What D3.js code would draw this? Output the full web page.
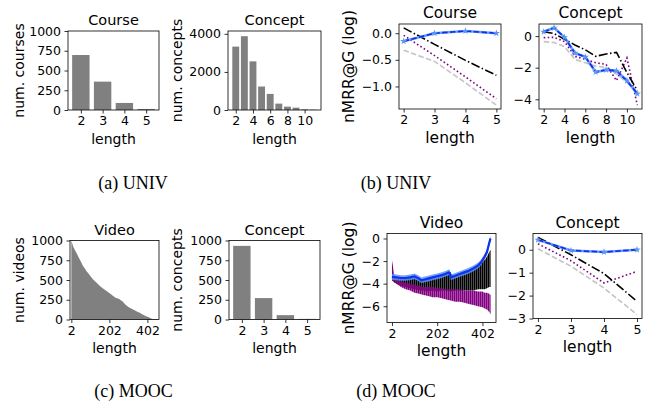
<!DOCTYPE html>
<html><head><meta charset="utf-8">
<script src="https://cdn.jsdelivr.net/npm/d3@7"></script>
<style>body{margin:0;background:#fff}</style>
</head><body><svg id="c" width="652" height="405" style="display:block;background:#fff"></svg>
<script>
// ---------- DATA ----------
// (a) UNIV counts
const univCourseLen = [2,3,4,5];
const univCourseCount = [696,359,89,13];
const univConceptLen = [2,3,4,5,6,7,8,9,10,11];
const univConceptCount = [3330,3877,2555,1233,846,335,176,123,35,18];
// (c) MOOC counts
const moocVideoLen = [2,12,22,32,42,52,62,72,82,92,102,112,122,132,142,152,162,172,182,192,202,212,222,232,242,252,262,272,282,292,302,312,322,332,342,352,362,372,382,392,402,412,422,432,442];
const moocVideoCount = [1000,920,875,830,780,733,685,648,612,582,550,520,495,471,448,425,405,387,370,352,336,318,298,278,268,262,245,228,200,178,158,145,132,120,108,96,84,70,58,45,36,24,12,4,1];
const moocConceptLen = [2,3,4,5];
const moocConceptCount = [932,271,55,8];
// (b) UNIV nMRR@G (log)
const univCourseL = [2,3,4,5];
const univCourseOurs = [-0.15,0.0,0.04,0.0];
const univCourseDashDot = [0.10,-0.21,-0.51,-0.79];
const univCourseDotted = [-0.04,-0.42,-0.82,-1.23];
const univCourseDashed = [-0.32,-0.53,-0.93,-1.35];
const univConceptL = [2,3,4,5,6,7,8,9,10,11];
const univConceptOurs = [0.27,0.52,-0.08,-1.07,-1.32,-2.27,-2.14,-2.2,-2.82,-3.65];
const univConceptDashDot = [0.27,0.16,-0.2,-0.56,-0.87,-1.28,-1.13,-1.03,-2.31,-3.44];
const univConceptDotted = [-0.1,-0.08,-0.35,-1.28,-1.48,-1.69,-1.79,-2.82,-1.38,-4.37];
const univConceptDashed = [-0.35,-0.41,-0.66,-1.48,-1.69,-1.9,-2.0,-2.41,-2.93,-3.55];
// (d) MOOC nMRR@G (log)
const moocVideoOursL = [2,22,42,62,82,102,122,132,142,162,182,202,222,242,252,258,262,282,302,322,342,362,382,397,412,422,427,432,436,438];
const moocVideoOurs = [-3.4,-3.45,-3.5,-3.5,-3.45,-3.35,-3.55,-3.7,-3.65,-3.55,-3.45,-3.35,-3.25,-3.1,-3.0,-3.05,-3.45,-3.3,-3.15,-3.0,-2.85,-2.65,-2.4,-2.1,-1.6,-1.2,-0.8,-0.4,-0.1,0.0];
const moocVideoBandHalf = 0.25;
const moocVideoNoiseL = [2,12,22,42,62,82,102,122,142,162,182,202,222,242,262,282,302,322,342,362,382,402,412,422,432,438];
const moocVideoDashDotHi = [-3.4,-3.4,-3.4,-3.5,-3.5,-3.5,-3.4,-3.6,-3.7,-3.6,-3.5,-3.4,-3.3,-3.1,-3.1,-3.4,-3.2,-3.0,-2.8,-2.6,-2.4,-2.1,-1.9,-1.6,-1.2,-1.0];
const moocVideoDashDotLo = [-3.7,-3.9,-4.0,-4.2,-4.3,-4.4,-4.5,-4.6,-4.6,-4.7,-4.6,-4.7,-4.6,-4.6,-4.7,-4.6,-4.6,-4.6,-4.6,-4.6,-4.5,-4.5,-4.5,-4.4,-4.3,-4.3];
const moocVideoDottedHi = [-1.9,-3.2,-3.6,-3.8,-3.9,-4.0,-4.1,-4.2,-4.3,-4.3,-4.3,-4.4,-4.4,-4.5,-4.5,-4.5,-4.5,-4.6,-4.6,-4.6,-4.7,-4.7,-4.8,-4.8,-4.9,-5.0];
const moocVideoDottedLo = [-3.6,-3.8,-4.0,-4.3,-4.5,-4.6,-4.8,-4.9,-5.0,-5.1,-5.2,-5.2,-5.3,-5.4,-5.5,-5.6,-5.6,-5.7,-5.8,-5.9,-6.0,-6.1,-6.2,-6.3,-6.5,-6.7];
const moocConceptL = [2,3,4,5];
const moocConceptOurs = [0.43,-0.03,-0.1,0.0];
const moocConceptDashDot = [0.54,-0.22,-1.04,-2.25];
const moocConceptDotted = [0.26,-0.48,-1.45,-0.94];
const moocConceptDashed = [0.04,-0.72,-1.67,-2.83];

const captions = ["(a) UNIV","(b) UNIV","(c) MOOC","(d) MOOC"];

// ---------- DRAW ----------
const svg = d3.select('#c');
const FONT = '"DejaVu Sans", sans-serif';
const C_BLUE = '#1030f0', C_LBLUE = '#5a97f4', C_PURPLE = '#800080', C_GRAY = '#c4c4c4', C_BAR = '#808080';
let pid = 0;

const defs = svg.append('defs');
function stripes(id, color, w){
  const pt = defs.append('pattern').attr('id',id).attr('width',2).attr('height',4).attr('patternUnits','userSpaceOnUse');
  pt.append('rect').attr('width',w).attr('height',4).attr('fill',color);
}
stripes('hatchK','#000',1.7);
stripes('hatchP',C_PURPLE,1.7);

function padDomain(arrs){
  const all = arrs.flat();
  const lo = d3.min(all), hi = d3.max(all), m = (hi-lo)*0.05;
  return [lo-m, hi+m];
}

function panel(o){
  const id = 'cp'+(pid++);
  const g = svg.append('g');
  const x = d3.scaleLinear().domain(o.xdom).range([o.x0,o.x1]);
  const y = d3.scaleLinear().domain(o.ydom).range([o.y1,o.y0]);
  g.append('clipPath').attr('id',id).append('rect')
    .attr('x',o.x0).attr('y',o.y0).attr('width',o.x1-o.x0).attr('height',o.y1-o.y0);
  const plot = g.append('g').attr('clip-path',`url(#${id})`);
  const ax = g.append('g').attr('transform',`translate(0,${o.y1})`)
    .call(d3.axisBottom(x).tickValues(o.xticks).tickSize(3.5).tickPadding(3).tickFormat(o.xfmt||d3.format('d')));
  const ay = g.append('g').attr('transform',`translate(${o.x0},0)`)
    .call(d3.axisLeft(y).tickValues(o.yticks).tickSize(3.5).tickPadding(3.5).tickFormat(o.yfmt||d3.format('d')));
  [ax,ay].forEach(a=>{
    a.attr('font-family',FONT).attr('font-size',o.tfs||12.5);
    a.select('.domain').remove();
    a.selectAll('line').attr('stroke','#000').attr('stroke-width',0.8);
    a.selectAll('text').attr('fill','#000');
  });
  g.append('rect').attr('x',o.x0).attr('y',o.y0).attr('width',o.x1-o.x0).attr('height',o.y1-o.y0)
    .attr('fill','none').attr('stroke','#000').attr('stroke-width',0.8);
  g.append('text').attr('x',(o.x0+o.x1)/2).attr('y',o.y0-6).attr('text-anchor','middle')
    .attr('font-family',FONT).attr('font-size',o.titfs).text(o.title);
  g.append('text').attr('x',(o.x0+o.x1)/2).attr('y',o.y1+33.5).attr('text-anchor','middle')
    .attr('font-family',FONT).attr('font-size',o.lfs).text('length');
  if(o.ylabel){
    g.append('text').attr('transform',`translate(${o.ylx},${(o.y0+o.y1)/2}) rotate(-90)`)
      .attr('text-anchor','middle').attr('font-family',FONT).attr('font-size',o.lfs).text(o.ylabel);
  }
  return {g:plot,x,y};
}

function bars(p, lens, vals, w){
  p.g.selectAll(null).data(lens).enter().append('rect')
    .attr('x',d=>p.x(d-w/2)).attr('width',d=>p.x(d+w/2)-p.x(d-w/2))
    .attr('y',(d,i)=>p.y(vals[i])).attr('height',(d,i)=>p.y(0)-p.y(vals[i]))
    .attr('fill',C_BAR);
}

function lines(p, L, ours, dd, dot, dash){
  const lw = 1.6;
  const ln = arr => d3.line().x((d,i)=>p.x(L[i])).y(d=>p.y(d))(arr);
  p.g.append('path').attr('d',ln(dash)).attr('fill','none').attr('stroke',C_GRAY).attr('stroke-width',lw).attr('stroke-dasharray','5.5,2.4');
  p.g.append('path').attr('d',ln(dot)).attr('fill','none').attr('stroke',C_PURPLE).attr('stroke-width',lw).attr('stroke-dasharray','1.6,2.4');
  p.g.append('path').attr('d',ln(dd)).attr('fill','none').attr('stroke','#000').attr('stroke-width',lw).attr('stroke-dasharray','9,2.4,1.5,2.4');
  p.g.append('path').attr('d',ln(ours)).attr('fill','none').attr('stroke',C_LBLUE).attr('stroke-width',2.6).attr('opacity',0.9);
  p.g.append('path').attr('d',ln(ours)).attr('fill','none').attr('stroke',C_BLUE).attr('stroke-width',1.7).attr('stroke-dasharray','5.5,2.4');
  p.g.selectAll(null).data(ours).enter().append('path')
    .attr('d',d3.symbol(d3.symbolStar,16)())
    .attr('transform',(d,i)=>`translate(${p.x(L[i])},${p.y(d)})`)
    .attr('fill',C_LBLUE);
}

// (a) Course counts
{
  const p = panel({x0:68,x1:159,y0:31,y1:110,xdom:[1.41,5.59],ydom:[0,1000],xticks:[2,3,4,5],yticks:[0,250,500,750,1000],
    title:'Course',ylabel:'num. courses',ylx:24,titfs:14.5,lfs:14});
  bars(p, univCourseLen, univCourseCount, 0.8);
}
// (a) Concept counts
{
  const p = panel({x0:228,x1:321,y0:31,y1:110,xdom:[1.1,11.9],ydom:[0,4150],xticks:[2,4,6,8,10],yticks:[0,2000,4000],
    title:'Concept',ylabel:'num. concepts',ylx:182,titfs:14.5,lfs:14});
  bars(p, univConceptLen, univConceptCount, 0.8);
}
// (c) Video counts
{
  const p = panel({x0:70,x1:159,y0:240.5,y1:319.5,xdom:[-5,463],ydom:[0,1000],xticks:[2,202,402],yticks:[0,250,500,750,1000],
    title:'Video',ylabel:'num. videos',ylx:24,titfs:14.5,lfs:14});
  const pts = moocVideoLen.map((l,i)=>[l,moocVideoCount[i]]);
  p.g.append('path').attr('d',d3.area().x(d=>p.x(d[0])).y0(p.y(0)).y1(d=>p.y(d[1]))(pts))
    .attr('fill',C_BAR);
}
// (c) Concept counts
{
  const p = panel({x0:229,x1:320,y0:240.5,y1:319.5,xdom:[1.41,5.59],ydom:[0,1000],xticks:[2,3,4,5],yticks:[0,250,500,750,1000],
    title:'Concept',ylabel:'num. concepts',ylx:182,titfs:14.5,lfs:14});
  bars(p, moocConceptLen, moocConceptCount, 0.8);
}
// (b) Course nMRR
{
  const p = panel({x0:399,x1:501,y0:24,y1:109,xdom:[1.85,5.15],
    ydom:padDomain([univCourseOurs,univCourseDashDot,univCourseDotted,univCourseDashed]),
    xticks:[2,3,4,5],yticks:[0,-0.5,-1.0],yfmt:d3.format('.1f'),
    title:'Course',ylabel:'nMRR@G (log)',ylx:354,titfs:15.5,lfs:15.5});
  lines(p, univCourseL, univCourseOurs, univCourseDashDot, univCourseDotted, univCourseDashed);
}
// (b) Concept nMRR
{
  const p = panel({x0:539,x1:642,y0:24,y1:109,xdom:[1.55,11.45],
    ydom:padDomain([univConceptOurs,univConceptDashDot,univConceptDotted,univConceptDashed]),
    xticks:[2,4,6,8,10],yticks:[0,-2,-4],
    title:'Concept',titfs:15.5,lfs:15.5});
  lines(p, univConceptL, univConceptOurs, univConceptDashDot, univConceptDotted, univConceptDashed);
}
// (d) Video nMRR
{
  const p = panel({x0:387,x1:496,y0:233.5,y1:322.5,xdom:[-19.9,461.9],ydom:[-7.44,0.44],
    xticks:[2,202,402],yticks:[0,-2,-4,-6],
    title:'Video',ylabel:'nMRR@G (log)',ylx:354,titfs:15.5,lfs:15.5});
  const band = (hi,lo,L)=>d3.area().x((d,i)=>p.x(L[i])).y0((d,i)=>p.y(lo[i])).y1(d=>p.y(d))(hi);
  p.g.append('path').attr('d',band(moocVideoDashDotHi,moocVideoDashDotLo,moocVideoNoiseL)).attr('fill','url(#hatchK)');
  p.g.append('path').attr('d',band(moocVideoDottedHi,moocVideoDottedLo,moocVideoNoiseL)).attr('fill','url(#hatchP)');
  const hiB = moocVideoOurs.map(v=>v+moocVideoBandHalf), loB = moocVideoOurs.map(v=>v-moocVideoBandHalf);
  p.g.append('path').attr('d',band(hiB,loB,moocVideoOursL)).attr('fill',C_LBLUE).attr('opacity',0.85);
  p.g.append('path').attr('d',d3.line().x((d,i)=>p.x(moocVideoOursL[i])).y(d=>p.y(d))(moocVideoOurs))
    .attr('fill','none').attr('stroke',C_BLUE).attr('stroke-width',2.2);
}
// (d) Concept nMRR
{
  const p = panel({x0:533,x1:642,y0:233.5,y1:318.5,xdom:[1.85,5.15],
    ydom:padDomain([moocConceptOurs,moocConceptDashDot,moocConceptDotted,moocConceptDashed]),
    xticks:[2,3,4,5],yticks:[0,-1,-2,-3],
    title:'Concept',titfs:15.5,lfs:15.5});
  lines(p, moocConceptL, moocConceptOurs, moocConceptDashDot, moocConceptDotted, moocConceptDashed);
}
// captions
const capPos = [[133,189],[396,189],[133.5,397],[396,397]];
svg.selectAll(null).data(captions).enter().append('text')
  .attr('x',(d,i)=>capPos[i][0]).attr('y',(d,i)=>capPos[i][1]).attr('text-anchor','middle')
  .attr('font-family','"Liberation Serif", "Times New Roman", serif').attr('font-size',18)
  .text(d=>d);
</script></body></html>
